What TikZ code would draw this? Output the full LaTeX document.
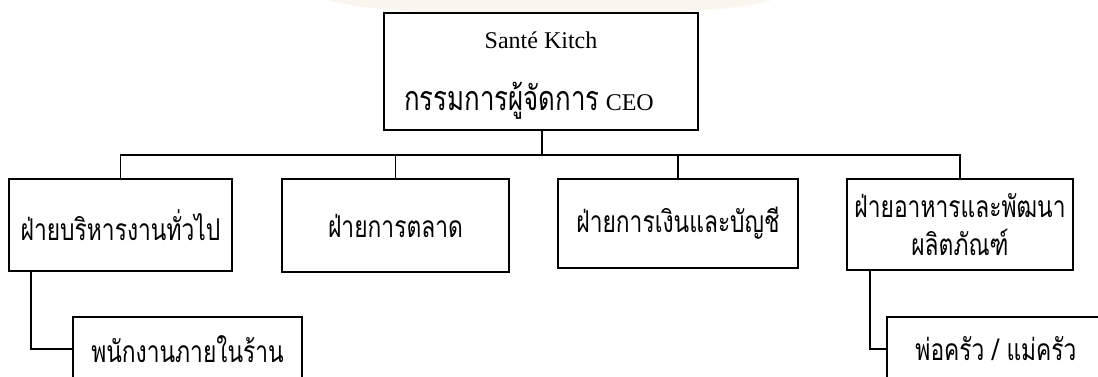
\documentclass[tikz,border=0pt]{standalone}
\usepackage{fontspec}
\setmainfont{Liberation Serif}
\newfontfamily\thai[Script=Thai,FakeStretch=0.76]{Loma}
\begin{document}
\begin{tikzpicture}[x=1pt,y=-1pt,
  box/.style={draw=black,line width=1.7pt,fill=white,inner sep=0pt,align=center,font=\fontsize{24}{28}\selectfont},
  thaibox/.style={box,font=\thai\fontsize{30}{38}\selectfont},
  plain/.style={inner sep=0pt,align=center,font=\fontsize{24}{28}\selectfont},
  link/.style={draw=black,line width=1.7pt}]
\clip (0,0) rectangle (1098,376);
\useasboundingbox (0,0) rectangle (1098,376);
\fill[white] (0,0) rectangle (1098,376);
\fill[color={rgb,255:red,249;green,246;blue,238}] (550,-6) ellipse [x radius=230, y radius=22];
% top
\node[box,minimum width=314pt,minimum height=117pt] (ceo) at (541,71.5) {};
\node[plain] (ceotext) at (541,75.5)
  {Santé Kitch\\[33pt]{\thai\fontsize{34}{36}\selectfont กรรมการผู้จัดการ} CEO\hspace*{24pt}};
% level 2
\node[thaibox,minimum width=223pt,minimum height=92pt] (d1) at (120.5,225)
  {ฝ่ายบริหารงานทั่วไป};
\node[thaibox,minimum width=227pt,minimum height=93pt] (d2) at (395.5,225.5)
  {ฝ่ายการตลาด};
\node[thaibox,minimum width=240pt,minimum height=89pt] (d3) at (678,223.5)
  {ฝ่ายการเงินและบัญชี};
\node[thaibox,minimum width=226pt,minimum height=91pt] (d4) at (960,224.5)
  {ฝ่ายอาหารและพัฒนา\\ผลิตภัณฑ์};
% level 3
\node[thaibox,minimum width=229pt,minimum height=64pt] (s1) at (187.5,349)
  {พนักงานภายในร้าน};
\node[thaibox,minimum width=218pt,minimum height=64pt] (s4) at (996,349)
  {พ่อครัว / แม่ครัว};
% connectors
\coordinate (bus) at (542,155);
\draw[link] (ceo.south -| bus) -- (bus);
\draw[link] (d1.north) |- (bus) -| (d4.north);
\draw[link] (d2.north) -- (d2.north |- bus);
\draw[link] (d3.north) -- (d3.north |- bus);
\draw[link] ([xshift=23pt]d1.south west) |- (s1.west);
\draw[link] ([xshift=24pt]d4.south west) |- (s4.west);
\end{tikzpicture}
\end{document}
